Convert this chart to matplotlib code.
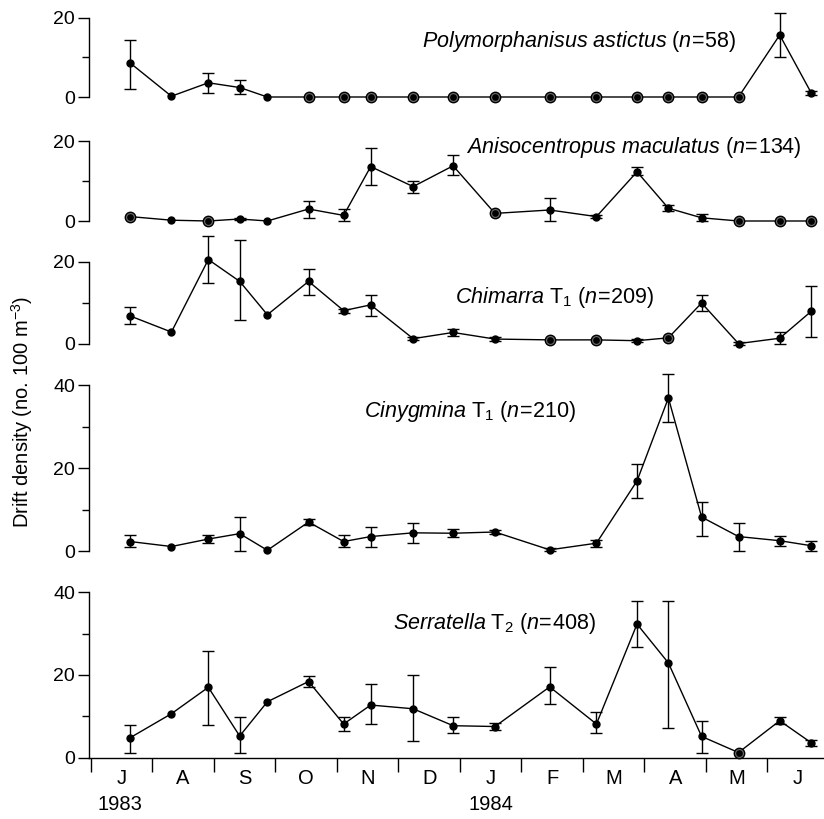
import numpy as np
import matplotlib
matplotlib.use("Agg")
import matplotlib.pyplot as plt

plt.rcParams['font.family'] = ['Liberation Sans', 'DejaVu Sans']
plt.rcParams['mathtext.fontset'] = 'custom'
plt.rcParams['mathtext.rm'] = 'Liberation Sans'
plt.rcParams['mathtext.it'] = 'Liberation Sans:italic'
plt.rcParams['mathtext.bf'] = 'Liberation Sans:bold'

# sampling dates, in months since 1 June 1983
dates = [0.64, 1.31, 1.91, 2.42, 2.87, 3.54, 4.11, 4.55, 5.24, 5.89,
         6.57, 7.46, 8.22, 8.88, 9.39, 9.93, 10.53, 11.2, 11.71]

months = ['J', 'A', 'S', 'O', 'N', 'D', 'J', 'F', 'M', 'A', 'M', 'J']
years = ['1983', '1984']

nan = np.nan

# Polymorphanisus astictus
poly_mean = [8.6, 0.2, 3.6, 2.4, 0, 0, 0, 0, 0, 0, 0, 0, 0, 0, 0, 0, 0, 15.7, 1.1]
poly_lo = [2.0, nan, 1.1, 0.7, nan, nan, nan, nan, nan, nan, nan, nan, nan, nan, nan, nan, nan, 10.0, 0.6]
poly_hi = [14.4, nan, 6.2, 4.2, nan, nan, nan, nan, nan, nan, nan, nan, nan, nan, nan, nan, nan, 21.3, 1.6]
poly_ring = [5, 6, 7, 8, 9, 10, 11, 12, 13, 14, 15, 16]

# Anisocentropus maculatus
ani_mean = [1.1, 0.2, 0, 0.5, 0, 3.0, 1.4, 13.6, 8.6, 13.8, 1.9, 2.75, 1.1, 12.3, 3.2, 0.8, 0, 0, 0]
ani_lo = [nan, nan, nan, 0.2, nan, 0.8, 0.0, 9.0, 6.9, 11.5, nan, 0.0, 0.8, 11.5, 2.5, 0.0, nan, nan, nan]
ani_hi = [nan, nan, nan, 0.8, nan, 5.1, 2.9, 18.2, 10.1, 16.5, nan, 5.8, 1.4, 13.6, 3.9, 1.7, nan, nan, nan]
ani_ring = [0, 2, 10, 16, 17, 18]

# Chimarra T1
chi_mean = [6.8, 2.9, 20.5, 15.2, 7.1, 15.2, 8.1, 9.5, 1.3, 2.8, 1.2, 1.0, 1.0, 0.8, 1.5, 9.95, 0.1, 1.4, 7.9]
chi_lo = [4.9, nan, 14.8, 5.9, nan, 12.0, 7.6, 6.9, 0.9, 2.0, 0.8, nan, nan, 0.4, nan, 7.9, -0.2, 0.0, 1.6]
chi_hi = [9.0, nan, 26.2, 25.2, nan, 18.1, 8.6, 12.0, 1.7, 3.6, 1.6, nan, nan, 1.2, nan, 12.0, 0.4, 2.9, 14.0]
chi_ring = [11, 12, 14]

# Cinygmina T1
cin_mean = [2.4, 1.2, 3.0, 4.3, 0.3, 7.1, 2.4, 3.6, 4.5, 4.4, 4.7, 0.4, 2.0, 17.0, 37.0, 8.3, 3.6, 2.6, 1.4]
cin_lo = [1.0, nan, 2.0, 0.0, nan, 6.4, 1.0, 1.2, 2.0, 3.4, 4.2, 0.0, 1.2, 13.0, 31.2, 3.8, 0.2, 1.4, 0.2]
cin_hi = [4.0, nan, 4.0, 8.2, nan, 7.8, 4.0, 6.0, 6.9, 5.4, 5.2, 0.8, 2.8, 21.1, 42.8, 12.0, 6.8, 3.8, 2.6]
cin_ring = []

# Serratella T2
ser_mean = [4.8, 10.6, 17.0, 5.2, 13.5, 18.4, 8.1, 12.7, 11.8, 7.7, 7.5, 17.1, 8.1, 32.3, 22.9, 5.1, 1.2, 8.9, 3.6]
ser_lo = [1.1, nan, 7.9, 1.1, nan, 17.0, 6.3, 8.1, 4.1, 5.9, 6.7, 13.0, 5.9, 26.7, 7.1, 1.1, nan, 8.1, 2.9]
ser_hi = [7.9, nan, 25.8, 9.9, nan, 19.8, 9.9, 17.8, 20.0, 9.9, 8.3, 21.8, 11.0, 37.9, 37.9, 8.9, nan, 9.7, 4.3]
ser_ring = [16]

titles = [r"$\mathit{Polymorphanisus\ astictus}$ ($\mathit{n}\!=\!$58)",
          r"$\mathit{Anisocentropus\ maculatus}$ ($\mathit{n}\!=\!$134)",
          r"$\mathit{Chimarra}$ T$_1$ ($\mathit{n}\!=\!$209)",
          r"$\mathit{Cinygmina}$ T$_1$ ($\mathit{n}\!=\!$210)",
          r"$\mathit{Serratella}$ T$_2$ ($\mathit{n}\!=\!$408)"]

panels = [
    (poly_mean, poly_lo, poly_hi, poly_ring),
    (ani_mean, ani_lo, ani_hi, ani_ring),
    (chi_mean, chi_lo, chi_hi, chi_ring),
    (cin_mean, cin_lo, cin_hi, cin_ring),
    (ser_mean, ser_lo, ser_hi, ser_ring),
]

W, H = 824, 819
fig = plt.figure(figsize=(W / 100, H / 100), dpi=100)

# layout: (pixel of y=0, px per unit, ylim, spine top, major ticks)
layout = [
    (97.0, 3.95, (-2.5, 23), 20, [0, 20]),
    (221.0, 4.0, (-2.5, 21), 20, [0, 20]),
    (344.0, 4.12, (-2.5, 27), 20, [0, 20]),
    (551.5, 4.15, (-2.0, 44), 40, [0, 20, 40]),
    (757.5, 4.13, (0, 41), 40, [0, 20, 40]),
]
title_pos = [(579, 42), (634, 148), (555, 298), (470, 412), (494, 623)]

left_px = 89
x0, x1 = -0.03, 11.92
lw = 1.0

for k, ((mean, lo, hi, ring), (p0, s, ylim, ytop, majors)) in enumerate(zip(panels, layout)):
    bot_px = p0 - ylim[0] * s
    top_px = p0 - ylim[1] * s
    ax = fig.add_axes([left_px / W, 1 - bot_px / H, (W - left_px) / W, (bot_px - top_px) / H])
    ax.set_facecolor('none')
    ax.set_xlim(x0, x1)
    ax.set_ylim(*ylim)

    d = np.array(dates)
    m = np.array(mean, dtype=float)
    l = np.array(lo, dtype=float)
    h = np.array(hi, dtype=float)

    ax.plot(d, m, color='black', lw=lw, clip_on=False, zorder=2)
    ok = ~np.isnan(l)
    ax.errorbar(d[ok], m[ok], yerr=[m[ok] - l[ok], h[ok] - m[ok]], fmt='none',
                ecolor='black', elinewidth=lw, capsize=4, capthick=lw, clip_on=False, zorder=2)
    ax.plot(d, m, 'o', color='black', ms=5, clip_on=False, zorder=3)
    if ring:
        r = np.array(ring)
        ax.plot(d[r], m[r], 'o', mfc='#6a6a6a', mec='black', mew=1.0, ms=7.5, clip_on=False, zorder=4)
        ax.plot(d[r], m[r], 'o', color='black', ms=3.8, clip_on=False, zorder=5)

    for sp in ['top', 'right']:
        ax.spines[sp].set_visible(False)
    ax.spines['left'].set_bounds(0, ytop)
    ax.spines['left'].set_linewidth(lw)
    ax.set_yticks(majors)
    ax.set_yticks(np.arange(10, ytop, 20), minor=True)
    ax.tick_params(axis='y', which='major', length=8, width=lw, labelsize=14, pad=2, direction='out')
    ax.tick_params(axis='y', which='minor', length=5, width=lw, direction='out')

    if k < 4:
        ax.spines['bottom'].set_visible(False)
        ax.set_xticks([])
    else:
        ax.spines['bottom'].set_linewidth(lw)
        ax.set_xticks(np.arange(0, 12))
        ax.set_xticklabels([])
        ax.set_xticks(np.arange(0.5, 12, 1.0), minor=True)
        ax.set_xticklabels(months, minor=True)
        ax.tick_params(axis='x', which='major', length=10, width=lw, direction='out')
        ax.tick_params(axis='x', which='minor', length=0, labelsize=14.5, pad=8)

    tx, ty = title_pos[k]
    fig.text(tx / W, 1 - ty / H, titles[k], fontsize=15.5, ha='center', va='center')

fig.text(120 / W, 1 - 805 / H, years[0], fontsize=14.5, ha='center', va='center')
fig.text(491 / W, 1 - 805 / H, years[1], fontsize=14.5, ha='center', va='center')
fig.text(22 / W, 1 - 412 / H, r"Drift density (no. 100 m$^{-3}$)", fontsize=14.5,
         rotation=90, ha='center', va='center')

fig.savefig('out.png', dpi=100)
